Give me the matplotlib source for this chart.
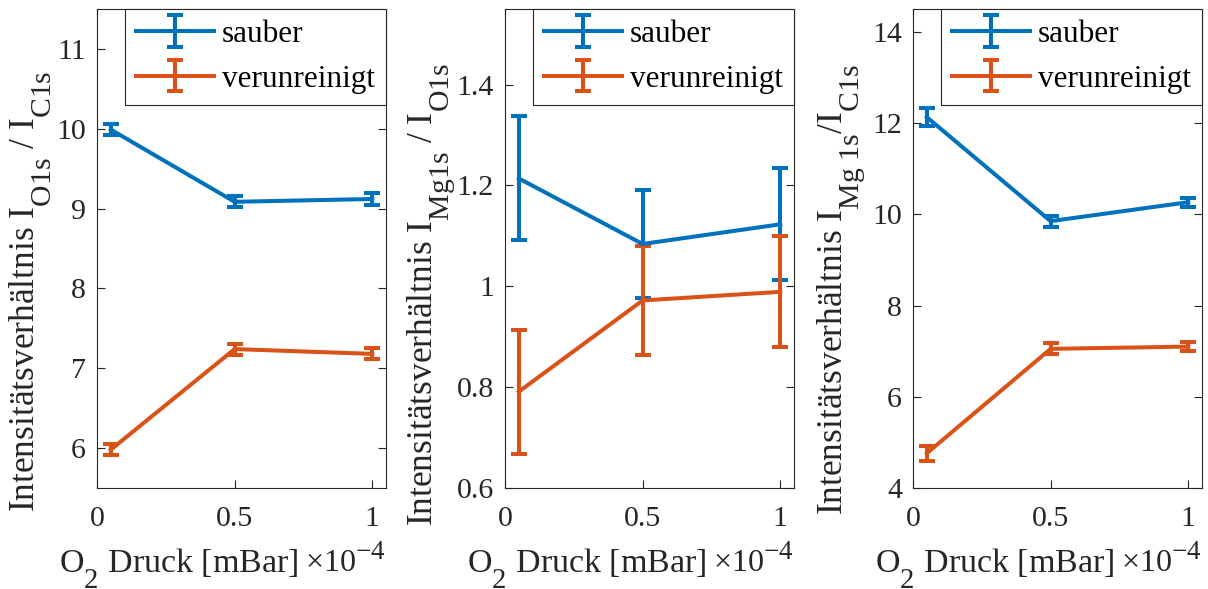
import matplotlib
matplotlib.use("Agg")
import matplotlib.pyplot as plt
import matplotlib._mathtext as _mt

# MATLAB-like TeX subscripts: larger and lower
_mt.SHRINK_FACTOR = 0.84
_mt.FontConstantsBase.sub1 = 1.05
_mt.FontConstantsBase.sup1 = 0.8

plt.rcParams['font.family'] = ['Liberation Serif', 'DejaVu Serif']
plt.rcParams['mathtext.fontset'] = 'custom'
plt.rcParams['mathtext.rm'] = 'Liberation Serif'
plt.rcParams['mathtext.it'] = 'Liberation Serif:italic'
plt.rcParams['mathtext.bf'] = 'Liberation Serif:bold'

# ---- data ----
pressure = [0.05, 0.5, 1.0]
series_names = ['sauber', 'verunreinigt']

o_c_clean = [9.99, 9.085, 9.12]
o_c_clean_err = [0.07, 0.07, 0.07]
o_c_dirty = [5.98, 7.24, 7.18]
o_c_dirty_err = [0.07, 0.07, 0.07]

mg_o_clean = [1.214, 1.084, 1.123]
mg_o_clean_err = [0.123, 0.107, 0.111]
mg_o_dirty = [0.791, 0.972, 0.989]
mg_o_dirty_err = [0.123, 0.108, 0.11]

mg_c_clean = [12.13, 9.85, 10.265]
mg_c_clean_err = [0.19, 0.12, 0.1]
mg_c_dirty = [4.76, 7.05, 7.1]
mg_c_dirty_err = [0.17, 0.12, 0.1]

ylabels = [r'Intensitätsverhältnis I$_{\mathrm{O1s}}$ / I$_{\mathrm{C1s}}$',
           r'Intensitätsverhältnis I$_{\mathrm{Mg1s}}$ / I$_{\mathrm{O1s}}$',
           r'Intensitätsverhältnis I$_{\mathrm{Mg\ 1s}}$/I$_{\mathrm{C1s}}$']
ylims = [(5.5, 11.5), (0.6, 1.55), (4, 14.5)]
yticks = [[6, 7, 8, 9, 10, 11], [0.6, 0.8, 1.0, 1.2, 1.4], [4, 6, 8, 10, 12, 14]]
yticklabels = [['6', '7', '8', '9', '10', '11'],
               ['0.6', '0.8', '1', '1.2', '1.4'],
               ['4', '6', '8', '10', '12', '14']]
xticks = [0, 0.5, 1]
xticklabels = ['0', '0.5', '1']

panels = [
    (o_c_clean, o_c_clean_err, o_c_dirty, o_c_dirty_err),
    (mg_o_clean, mg_o_clean_err, mg_o_dirty, mg_o_dirty_err),
    (mg_c_clean, mg_c_clean_err, mg_c_dirty, mg_c_dirty_err),
]

blue = '#0072BD'
orange = '#D95319'
axcol = '#262626'

fig = plt.figure(figsize=(12.08, 5.89), dpi=100)
lefts = [97, 505, 913]
ylab_x = [-0.218, -0.253, -0.246]
ylab_y = [0.41, 0.403, 0.414]
W, H = 1208, 589

for i, (cl, cle, di, die) in enumerate(panels):
    ax = fig.add_axes([lefts[i] / W, (H - 488) / H, 289 / W, 479 / H])
    ax.errorbar(pressure, cl, yerr=cle, color=blue, lw=2.9, capsize=5.5,
                capthick=2.9, elinewidth=2.9, label=series_names[0])
    ax.errorbar(pressure, di, yerr=die, color=orange, lw=2.9, capsize=5.5,
                capthick=2.9, elinewidth=2.9, label=series_names[1])
    ax.set_xlim(0, 1.05)
    ax.set_ylim(*ylims[i])
    ax.set_xticks(xticks)
    ax.set_xticklabels(xticklabels)
    ax.set_yticks(yticks[i])
    ax.set_yticklabels(yticklabels[i])
    ax.tick_params(direction='in', length=6, width=0.8, labelsize=21.5,
                   top=True, right=True, colors=axcol, labelcolor=axcol)
    ax.tick_params(axis='x', pad=13)
    ax.tick_params(axis='y', pad=8)
    for sp in ax.spines.values():
        sp.set_color(axcol)
        sp.set_linewidth(0.8)
    ax.set_ylabel(ylabels[i], fontsize=25.5, color=axcol)
    ax.yaxis.label.set_va('baseline')
    ax.yaxis.set_label_coords(ylab_x[i], ylab_y[i])
    ax.set_xlabel(r'O$_2$ Druck [mBar]', fontsize=24.5, color=axcol)
    ax.xaxis.label.set_va('baseline')
    ax.xaxis.set_label_coords(0.282, -0.175)
    ax.text(0.72, -0.175, r'$\times$10$^{-4}$', transform=ax.transAxes,
            fontsize=23, color=axcol, ha='left', va='baseline')
    leg = ax.legend(loc='upper right', borderaxespad=0, fancybox=False,
                    edgecolor=axcol, framealpha=1, fontsize=22.5,
                    handlelength=2.5, handletextpad=0.25, labelspacing=0.5,
                    borderpad=0.35)
    leg.get_frame().set_linewidth(0.8)

fig.savefig('out.png', dpi=100)
